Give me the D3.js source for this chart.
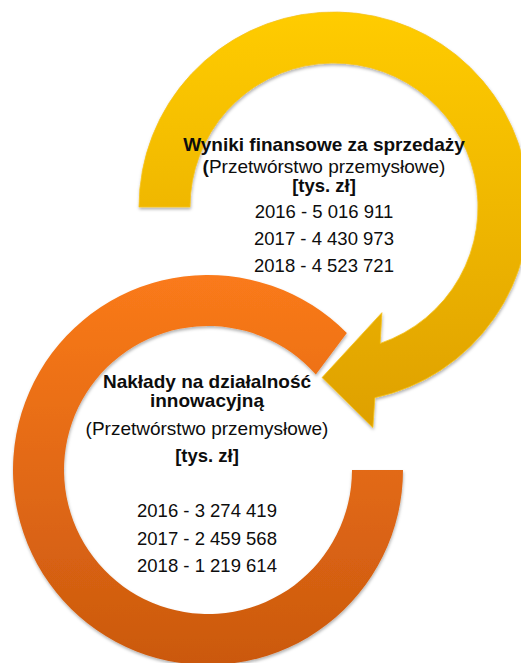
<!DOCTYPE html>
<html>
<head>
<meta charset="utf-8">
<script src="https://cdn.jsdelivr.net/npm/d3@7"></script>
<style>
  html, body { margin: 0; padding: 0; background: #fff; }
  svg { display: block; }
  text { font-family: "Liberation Sans", Arial, sans-serif; fill: #0d0d0d; }
</style>
</head>
<body>
<svg id="chart"></svg>
<script>
const WIDTH = 521;
const HEIGHT = 663;

// Values (tys. zł)
const years = [2016, 2017, 2018];
const salesValues = [5016911, 4430973, 4523721];
const innovationValues = [3274419, 2459568, 1219614];

const salesTitle = ['Wyniki finansowe za sprzedaży'];
const innovationTitle = ['Nakłady na działalność', 'innowacyjną'];
const sectorLabel = 'Przetwórstwo przemysłowe';
const unitLabel = '[tys. zł]';

// Polish style grouping: 5 016 911
const locale = d3.formatLocale({decimal: ',', thousands: ' ', grouping: [3], currency: ['', '']});
const fmt = locale.format(',d');

const rad = deg => deg * Math.PI / 180;
// d3 angles: 0 at 12 o'clock, clockwise. d3.path wants 0 at 3 o'clock.
const toPath = a => a - Math.PI / 2;
const polar = (cx, cy, r, a) => [cx + r * Math.sin(a), cy - r * Math.cos(a)];

const svg = d3.select('#chart')
  .attr('width', WIDTH)
  .attr('height', HEIGHT)
  .attr('viewBox', `0 0 ${WIDTH} ${HEIGHT}`);

const defs = svg.append('defs');

function addGradient(id, y1, y2, c1, c2) {
  const g = defs.append('linearGradient')
    .attr('id', id)
    .attr('gradientUnits', 'userSpaceOnUse')
    .attr('x1', 0).attr('x2', 0)
    .attr('y1', y1).attr('y2', y2);
  g.append('stop').attr('offset', '0%').attr('stop-color', c1);
  g.append('stop').attr('offset', '100%').attr('stop-color', c2);
}
addGradient('grad-yellow', 12, 430, '#ffcc00', '#dea000');
addGradient('grad-orange', 276, 662, '#fa7a1a', '#cb590f');

defs.append('filter')
  .attr('id', 'shadow')
  .attr('x', '-10%').attr('y', '-10%')
  .attr('width', '120%').attr('height', '120%')
  .append('feDropShadow')
  .attr('dx', 0.5).attr('dy', 2)
  .attr('stdDeviation', 1.6)
  .attr('flood-color', '#000')
  .attr('flood-opacity', 0.3);

// ring with a straight cut at both ends (orange)
function cutRing(cx, cy, rIn, rOut, a0, a1Out, a1In) {
  const p = d3.path();
  const s = polar(cx, cy, rOut, a0);
  p.moveTo(s[0], s[1]);
  p.arc(cx, cy, rOut, toPath(a0), toPath(a1Out), false);
  const e = polar(cx, cy, rIn, a1In);
  p.lineTo(e[0], e[1]);
  p.arc(cx, cy, rIn, toPath(a1In), toPath(a0), true);
  p.closePath();
  return p.toString();
}

// ring ending in an arrow head (yellow)
function arrowRing(cx, cy, rIn, rOut, a0, head) {
  const p = d3.path();
  const s = polar(cx, cy, rOut, a0);
  p.moveTo(s[0], s[1]);
  p.arc(cx, cy, rOut, toPath(a0), toPath(head.outerNotch), false);
  for (const [r, a] of [[head.outerBarbR, head.outerBarb], [head.tipR, head.tip], [head.innerBarbR, head.innerBarb]]) {
    const pt = polar(cx, cy, r, a);
    p.lineTo(pt[0], pt[1]);
  }
  const n = polar(cx, cy, rIn, head.innerNotch);
  p.lineTo(n[0], n[1]);
  p.arc(cx, cy, rIn, toPath(head.innerNotch), toPath(a0), true);
  p.closePath();
  return p.toString();
}

const R_IN = 144;
const R_OUT = 195;

const orange = {cx: 208, cy: 470};
const yellow = {cx: 334, cy: 207};

svg.append('path')
  .attr('d', cutRing(orange.cx, orange.cy, R_IN, R_OUT, rad(90), rad(405.4), rad(408.5)))
  .attr('fill', 'url(#grad-orange)')
  .attr('filter', 'url(#shadow)');

svg.append('path')
  .attr('d', arrowRing(yellow.cx, yellow.cy, R_IN, R_OUT, rad(-90), {
    outerNotch: rad(167.9),
    outerBarb: rad(170), outerBarbR: 224,
    tip: rad(184), tipR: 171,
    innerBarb: rad(155.6), innerBarbR: 116,
    innerNotch: rad(161.3)
  }))
  .attr('fill', 'url(#grad-yellow)')
  .attr('stroke', '#f6c31c')
  .attr('stroke-width', 0.8)
  .attr('filter', 'url(#shadow)');

// text blocks
function textBlock(x, lines) {
  const g = svg.append('g').attr('text-anchor', 'middle');
  for (const ln of lines) {
    const t = g.append('text')
      .attr('x', x)
      .attr('y', ln.y)
      .style('font-size', ln.size + 'px');
    for (const part of ln.parts) {
      t.append('tspan')
        .style('font-weight', part.bold ? 'bold' : 'normal')
        .text(part.text);
    }
  }
}

textBlock(324, [
  ...salesTitle.map(s => ({y: 150.5, size: 19, parts: [{text: s, bold: true}]})),
  {y: 173, size: 19, parts: [{text: '(', bold: true}, {text: sectorLabel + ')'}]},
  {y: 192, size: 18.5, parts: [{text: unitLabel, bold: true}]},
  ...years.map((yr, i) => ({y: 218 + i * 27, size: 18.5, parts: [{text: `${yr} - ${fmt(salesValues[i])}`}]}))
]);

textBlock(207, [
  ...innovationTitle.map((s, i) => ({y: 388 + i * 19, size: 19, parts: [{text: s, bold: true}]})),
  {y: 435, size: 19, parts: [{text: '(' + sectorLabel + ')'}]},
  {y: 462, size: 18.5, parts: [{text: unitLabel, bold: true}]},
  ...years.map((yr, i) => ({y: 517 + i * 27.5, size: 18.5, parts: [{text: `${yr} - ${fmt(innovationValues[i])}`}]}))
]);
</script>
</body>
</html>
